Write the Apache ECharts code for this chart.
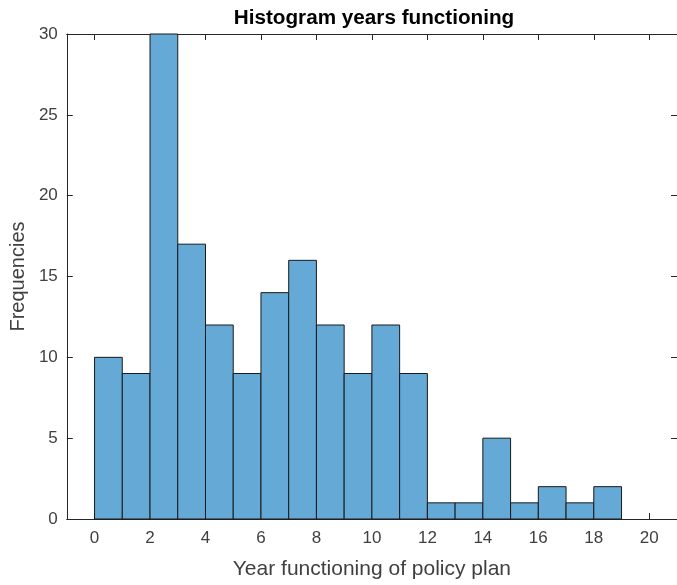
<!DOCTYPE html>
<html>
<head>
<meta charset="utf-8">
<script src="https://cdn.jsdelivr.net/npm/echarts@6/dist/echarts.min.js"></script>
<style>
  html, body { margin: 0; padding: 0; background: #fff; }
  #chart { width: 677px; height: 585px; }
</style>
</head>
<body>
<div id="chart"></div>
<script>
// Histogram bins: left edges, right edges and counts
const binStarts = [0, 1, 2, 3, 4, 5, 6, 7, 8, 9, 10, 11, 12, 13, 14, 15, 16, 17, 18];
const binEnds   = [1, 2, 3, 4, 5, 6, 7, 8, 9, 10, 11, 12, 13, 14, 15, 16, 17, 18, 19];
const counts    = [10, 9, 30, 17, 12, 9, 14, 16, 12, 9, 12, 9, 1, 1, 5, 1, 2, 1, 2];

const xTicks = [0, 2, 4, 6, 8, 10, 12, 14, 16, 18, 20];
const yTicks = [0, 5, 10, 15, 20, 25, 30];

const titleText = 'Histogram years functioning';
const xLabelText = 'Year functioning of policy plan';
const yLabelText = 'Frequencies';

const FONT = '"Liberation Sans", Arial, Helvetica, sans-serif';
const INK = '#262626';
const TEXT = '#404040';

const chart = echarts.init(document.getElementById('chart'), null, { renderer: 'canvas' });

const data = counts.map((c, i) => [binStarts[i], binEnds[i], c]);

const axisLine = { show: true, onZero: false, lineStyle: { color: INK, width: 1 } };

chart.setOption({
  animation: false,
  backgroundColor: '#fff',
  title: {
    text: titleText,
    left: 369, top: 3, textAlign: 'center',
    textStyle: { fontFamily: FONT, fontSize: 20.7, fontWeight: 'bold', color: '#000' }
  },
  grid: { left: 66, top: 34, right: -5, bottom: 63 },
  xAxis: [{
    type: 'value', min: -1, max: 21, position: 'bottom',
    axisLine: axisLine,
    axisTick: { show: true, inside: true, length: 6, customValues: xTicks, lineStyle: { color: INK } },
    axisLabel: { customValues: xTicks, fontFamily: FONT, fontSize: 17, color: TEXT, margin: 11 },
    splitLine: { show: false },
    name: xLabelText, nameLocation: 'middle', nameGap: 40,
    nameTextStyle: { fontFamily: FONT, fontSize: 21, color: TEXT }
  }, {
    type: 'value', min: -1, max: 21, position: 'top',
    axisLine: axisLine,
    axisTick: { show: true, inside: true, length: 6, customValues: xTicks, lineStyle: { color: INK } },
    axisLabel: { show: false },
    splitLine: { show: false }
  }],
  yAxis: [{
    type: 'value', min: 0, max: 30, interval: 5, position: 'left',
    axisLine: axisLine,
    axisTick: { show: true, inside: true, length: 6, lineStyle: { color: INK } },
    axisLabel: { fontFamily: FONT, fontSize: 17, color: TEXT, margin: 9,
      formatter: v => yTicks.includes(v) ? String(v) : '' },
    splitLine: { show: false },
    name: yLabelText, nameLocation: 'middle', nameGap: 32,
    nameTextStyle: { fontFamily: FONT, fontSize: 20, color: TEXT }
  }, {
    type: 'value', min: 0, max: 30, interval: 5, position: 'right',
    axisLine: axisLine,
    axisTick: { show: true, inside: true, length: 6, lineStyle: { color: INK } },
    axisLabel: { show: false },
    splitLine: { show: false }
  }],
  series: [{
    type: 'custom',
    xAxisIndex: 0, yAxisIndex: 0,
    data: data,
    encode: { x: [0, 1], y: 2 },
    renderItem: function (params, api) {
      const p0 = api.coord([api.value(0), 0]);
      const p1 = api.coord([api.value(1), api.value(2)]);
      return {
        type: 'rect',
        shape: { x: p0[0], y: p1[1], width: p1[0] - p0[0], height: p0[1] - p1[1] },
        style: { fill: '#65a9d7', stroke: '#1a1a1a', lineWidth: 1 }
      };
    }
  }]
});
</script>
</body>
</html>
